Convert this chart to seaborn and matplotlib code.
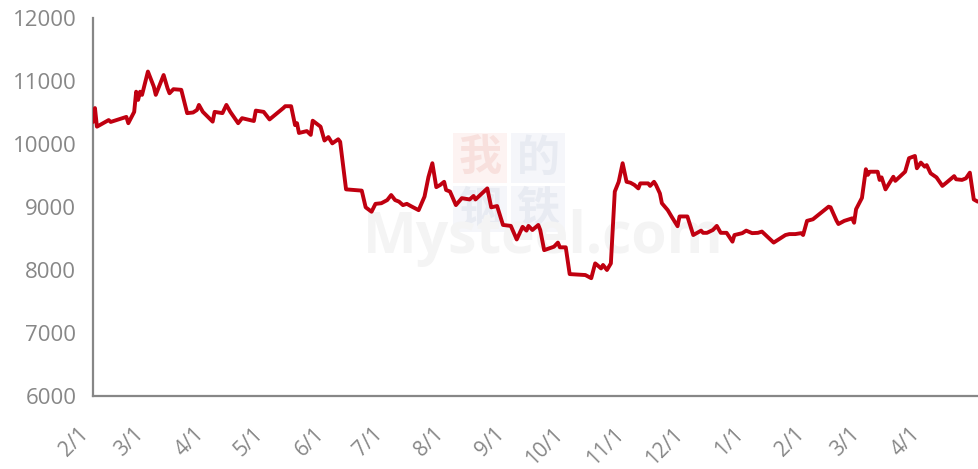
import matplotlib
matplotlib.use("Agg")
import matplotlib.pyplot as plt
import matplotlib.dates as mdates
from matplotlib.patches import Rectangle
import pandas as pd
import seaborn as sns

# Daily price series (yuan/ton)
dates = [
    "2021-02-01", "2021-02-02", "2021-02-03", "2021-02-09", "2021-02-10", "2021-02-18",
    "2021-02-19", "2021-02-22", "2021-02-23", "2021-02-24", "2021-02-25", "2021-02-26",
    "2021-03-01", "2021-03-04", "2021-03-05", "2021-03-09", "2021-03-11", "2021-03-12",
    "2021-03-14", "2021-03-18", "2021-03-21", "2021-03-24", "2021-03-26", "2021-03-27",
    "2021-03-29", "2021-04-03", "2021-04-04", "2021-04-08", "2021-04-10", "2021-04-12",
    "2021-04-16", "2021-04-18", "2021-04-24", "2021-04-25", "2021-04-29", "2021-05-02",
    "2021-05-09", "2021-05-10", "2021-05-13", "2021-05-15", "2021-05-16", "2021-05-17",
    "2021-05-21", "2021-05-23", "2021-05-24", "2021-05-28", "2021-05-30", "2021-06-01",
    "2021-06-03", "2021-06-06", "2021-06-07", "2021-06-10", "2021-06-18", "2021-06-20",
    "2021-06-23", "2021-06-25", "2021-06-28", "2021-07-01", "2021-07-03", "2021-07-05",
    "2021-07-07", "2021-07-09", "2021-07-11", "2021-07-13", "2021-07-17", "2021-07-20",
    "2021-07-22", "2021-07-24", "2021-07-26", "2021-07-28", "2021-07-30", "2021-07-31",
    "2021-08-02", "2021-08-05", "2021-08-08", "2021-08-12", "2021-08-14", "2021-08-15",
    "2021-08-21", "2021-08-23", "2021-08-26", "2021-08-29", "2021-09-02", "2021-09-05",
    "2021-09-08", "2021-09-10", "2021-09-11", "2021-09-13", "2021-09-16", "2021-09-17",
    "2021-09-19", "2021-09-24", "2021-09-26", "2021-09-27", "2021-09-30", "2021-10-02",
    "2021-10-10", "2021-10-13", "2021-10-15", "2021-10-16", "2021-10-18", "2021-10-19",
    "2021-10-21", "2021-10-23", "2021-10-25", "2021-10-27", "2021-10-29", "2021-10-31",
    "2021-11-02", "2021-11-04", "2021-11-06", "2021-11-07", "2021-11-11", "2021-11-12",
    "2021-11-14", "2021-11-15", "2021-11-17", "2021-11-18", "2021-11-21", "2021-11-23",
    "2021-11-26", "2021-11-27", "2021-12-01", "2021-12-04", "2021-12-08", "2021-12-09",
    "2021-12-11", "2021-12-14", "2021-12-16", "2021-12-18", "2021-12-21", "2021-12-24",
    "2021-12-25", "2021-12-29", "2021-12-31", "2022-01-03", "2022-01-06", "2022-01-08",
    "2022-01-14", "2022-01-20", "2022-01-22", "2022-01-25", "2022-01-28", "2022-01-29",
    "2022-01-31", "2022-02-03", "2022-02-11", "2022-02-12", "2022-02-15", "2022-02-16",
    "2022-02-19", "2022-02-23", "2022-02-24", "2022-02-25", "2022-02-28", "2022-03-02",
    "2022-03-03", "2022-03-04", "2022-03-08", "2022-03-09", "2022-03-10", "2022-03-12",
    "2022-03-16", "2022-03-17", "2022-03-22", "2022-03-24", "2022-03-27", "2022-03-28",
    "2022-03-30", "2022-04-01", "2022-04-02", "2022-04-04", "2022-04-07", "2022-04-10",
    "2022-04-12", "2022-04-16", "2022-04-17", "2022-04-20", "2022-04-22", "2022-04-24",
    "2022-04-26", "2022-04-28",
]
prices = [
    10350, 10570, 10275, 10380, 10350, 10430,
    10330, 10510, 10830, 10700, 10830, 10780,
    11150, 10910, 10780, 11095, 10885, 10805,
    10870, 10860, 10490, 10500, 10540, 10620,
    10510, 10355, 10510, 10490, 10620, 10510,
    10330, 10410, 10365, 10530, 10510, 10390,
    10570, 10600, 10600, 10300, 10330, 10175,
    10205, 10145, 10370, 10275, 10055, 10110,
    10010, 10075, 10035, 9280, 9260, 8995,
    8925, 9050, 9060, 9110, 9190, 9110,
    9085, 9030, 9050, 9015, 8950, 9165,
    9475, 9695, 9315, 9350, 9400, 9270,
    9245, 9030, 9140, 9120, 9175, 9120,
    9295, 8995, 9015, 8715, 8700, 8485,
    8685, 8625, 8700, 8635, 8715, 8635,
    8315, 8370, 8435, 8360, 8360, 7935,
    7920, 7870, 8105, 8080, 8025, 8080,
    8000, 8105, 9245, 9400, 9695, 9400,
    9385, 9350, 9295, 9375, 9375, 9335,
    9400, 9350, 9215, 9060, 8950, 8845,
    8695, 8850, 8850, 8555, 8625, 8590,
    8590, 8635, 8700, 8590, 8590, 8450,
    8555, 8585, 8625, 8585, 8590, 8610,
    8435, 8555, 8570, 8570, 8585, 8555,
    8780, 8805, 9005, 8995, 8785, 8730,
    8780, 8820, 8750, 8965, 9145, 9600,
    9510, 9560, 9560, 9430, 9470, 9280,
    9480, 9415, 9560, 9775, 9810, 9615,
    9705, 9640, 9665, 9535, 9470, 9335,
    9385, 9490, 9440, 9430, 9455, 9545,
    9120, 9085,
]
y_ticks = [6000, 7000, 8000, 9000, 10000, 11000, 12000]

df = pd.DataFrame({"date": pd.to_datetime(dates), "price": prices})

sns.set_theme(style="white")
plt.rcParams["font.family"] = ["Open Sans", "DejaVu Sans"]

W, H = 979, 469
fig = plt.figure(figsize=(W / 100, H / 100), dpi=100)
ax = fig.add_axes([93 / W, 73 / H, (W - 93) / W, (396 - 18) / H])

# Faint brand watermark, kept beneath the price line
ft = fig.transFigure
tiles = [
    (453, 133, 507, 183, "#fdf3f2", "#f8e0dd", "我"),
    (511, 133, 565, 183, "#f5f6fa", "#e8ebf2", "的"),
    (453, 186, 507, 232, "#f5f6fa", "#e8ebf2", "钢"),
    (511, 186, 565, 232, "#f5f6fa", "#e8ebf2", "铁"),
]
for x0, y0, x1, y1, bg, fg, ch in tiles:
    ax.add_patch(Rectangle((x0 / W, 1 - y1 / H), (x1 - x0) / W, (y1 - y0) / H,
                           transform=ft, facecolor=bg, edgecolor="none",
                           zorder=0.5, clip_on=False))
    ax.text((x0 + x1) / 2 / W, 1 - (y0 + y1) / 2 / H, ch, transform=ft,
            ha="center", va="center", fontsize=31, color=fg, fontweight="bold",
            family=["Noto Sans CJK SC", "DejaVu Sans"], zorder=0.6)
ax.text(543 / W, 1 - 238 / H, "Mysteel.com", transform=ft, ha="center",
        va="center", fontsize=41, fontweight="bold", color="#f4f4f4", zorder=0.7)

sns.lineplot(data=df, x="date", y="price", ax=ax, color="#c00010", linewidth=2.8,
             zorder=3)

grey = "#878787"
ax.set_ylim(6000, 12000)
ax.set_xlim(pd.Timestamp("2021-02-01"), pd.Timestamp("2022-04-28 16:00"))
ax.set_yticks(y_ticks)
ax.set_yticklabels([str(v) for v in y_ticks])
ax.xaxis.set_major_locator(mdates.MonthLocator())
ax.xaxis.set_major_formatter(
    matplotlib.ticker.FuncFormatter(
        lambda v, p: f"{mdates.num2date(v).month}/{mdates.num2date(v).day}"))
ax.set_xlabel("")
ax.set_ylabel("")
ax.grid(False)

for side in ("top", "right"):
    ax.spines[side].set_visible(False)
for side in ("left", "bottom"):
    ax.spines[side].set_color(grey)
    ax.spines[side].set_linewidth(1.6)

ax.tick_params(axis="both", which="major", direction="out", length=7, width=1.6,
               color=grey, labelcolor=grey)
ax.tick_params(axis="y", labelsize=16, pad=5)
ax.tick_params(axis="x", labelsize=15, pad=13)
for lbl in ax.get_xticklabels():
    lbl.set_rotation(45)
    lbl.set_ha("right")
    lbl.set_rotation_mode("default")

fig.savefig("out.png", dpi=100)
